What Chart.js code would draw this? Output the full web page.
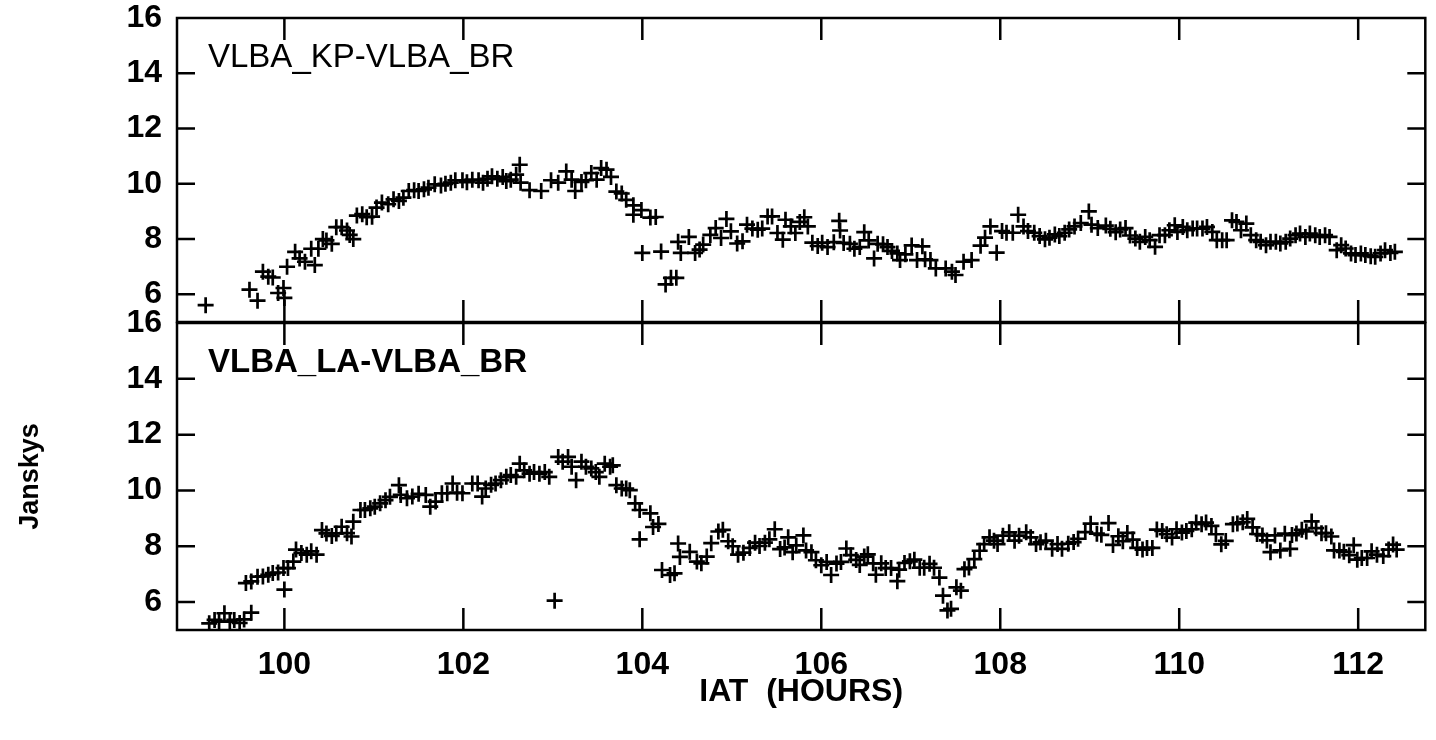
<!DOCTYPE html>
<html lang="en">
<head>
  <meta charset="UTF-8">
  <title>VLBA baseline amplitudes</title>
  <script src="https://cdn.jsdelivr.net/npm/chart.js"></script>
  <style>
    body {
      margin: 0;
      background: #fff;
    }
    .wrap {
      position: relative;
      width: 1436px;
      height: 740px;
    }
    canvas {
      position: absolute;
      left: 0;
    }
    #topPanel { top: 0; }
    #bottomPanel { top: 300px; }
  </style>
</head>
<body>
  <div class="wrap">
    <canvas id="topPanel" width="1436" height="340"></canvas>
    <canvas id="bottomPanel" width="1436" height="440"></canvas>
  </div>

  <script>
    // axis ticks
    const hourTicks = [100, 102, 104, 106, 108, 110, 112];
    const fluxTicks = [6, 8, 10, 12, 14, 16];

    // VLBA_KP-VLBA_BR  (IAT hours, Janskys)
    const kpTime = [
      99.12, 99.61, 99.70, 99.76, 99.82, 99.87, 99.93, 99.99, 100.00, 100.03,
      100.12, 100.17, 100.23, 100.30, 100.34, 100.38, 100.43, 100.47, 100.53, 100.58,
      100.64, 100.70, 100.73, 100.77, 100.81, 100.87, 100.92, 100.98, 101.03, 101.09,
      101.16, 101.22, 101.28, 101.33, 101.39, 101.45, 101.50, 101.56, 101.61, 101.68,
      101.75, 101.80, 101.86, 101.91, 101.99, 102.04, 102.10, 102.17, 102.22, 102.27,
      102.32, 102.38, 102.44, 102.48, 102.53, 102.59, 102.63, 102.64, 102.74, 102.87,
      102.98, 103.06, 103.15, 103.21, 103.25, 103.32, 103.37, 103.43, 103.49, 103.54,
      103.60, 103.65, 103.71, 103.77, 103.82, 103.90, 103.90, 103.99, 104.00, 104.09,
      104.15, 104.21, 104.26, 104.32, 104.38, 104.40, 104.43, 104.52, 104.59, 104.64,
      104.68, 104.76, 104.82, 104.88, 104.94, 104.99, 105.06, 105.12, 105.17, 105.23,
      105.29, 105.34, 105.40, 105.45, 105.51, 105.57, 105.60, 105.66, 105.71, 105.76,
      105.81, 105.85, 105.90, 105.96, 106.01, 106.07, 106.14, 106.20, 106.21, 106.25,
      106.32, 106.37, 106.43, 106.48, 106.53, 106.59, 106.63, 106.69, 106.74, 106.79,
      106.85, 106.88, 106.94, 107.01, 107.07, 107.13, 107.16, 107.22, 107.28, 107.39,
      107.46, 107.50, 107.59, 107.68, 107.78, 107.83, 107.89, 107.96, 108.02, 108.07,
      108.14, 108.20, 108.26, 108.31, 108.38, 108.44, 108.50, 108.55, 108.61, 108.66,
      108.72, 108.77, 108.83, 108.90, 108.99, 109.02, 109.09, 109.18, 109.23, 109.29,
      109.34, 109.40, 109.45, 109.51, 109.56, 109.62, 109.67, 109.73, 109.78, 109.84,
      109.89, 109.95, 109.98, 110.04, 110.09, 110.15, 110.20, 110.26, 110.31, 110.37,
      110.42, 110.48, 110.53, 110.59, 110.64, 110.69, 110.75, 110.80, 110.86, 110.91,
      110.97, 111.02, 111.08, 111.13, 111.19, 111.24, 111.30, 111.35, 111.41, 111.46,
      111.52, 111.57, 111.63, 111.68, 111.76, 111.81, 111.86, 111.92, 111.97, 112.03,
      112.08, 112.14, 112.19, 112.25, 112.30, 112.36, 112.41
    ];
    const kpFlux = [
      5.61, 6.17, 5.77, 6.82, 6.64, 6.61, 6.05, 6.23, 5.87, 7.00,
      7.54, 7.30, 7.18, 7.65, 7.06, 7.65, 8.00, 7.95, 7.83, 8.43,
      8.43, 8.31, 8.15, 8.00, 8.85, 8.90, 8.79, 8.81, 9.14, 9.32,
      9.26, 9.44, 9.38, 9.50, 9.74, 9.77, 9.74, 9.80, 9.86, 9.98,
      9.94, 10.00, 10.04, 10.13, 10.13, 10.06, 10.15, 10.13, 10.04, 10.18,
      10.27, 10.18, 10.25, 10.10, 10.15, 10.33, 10.69, 10.04, 9.77, 9.74,
      10.13, 10.04, 10.45, 10.15, 9.74, 10.07, 10.13, 10.39, 10.15, 10.57,
      10.51, 10.25, 9.72, 9.65, 9.42, 9.22, 8.88, 9.05, 7.50, 8.78,
      8.80, 7.55, 6.36, 6.60, 6.60, 7.90, 7.50, 8.08, 7.50, 7.62,
      7.80, 8.15, 8.40, 8.04, 8.73, 8.28, 7.84, 7.92, 8.52, 8.38,
      8.34, 8.38, 8.82, 8.82, 8.22, 7.98, 8.70, 8.46, 8.22, 8.62,
      8.79, 8.46, 7.87, 7.75, 7.87, 7.71, 7.89, 8.66, 8.31, 7.86,
      7.83, 7.65, 7.71, 8.25, 7.95, 7.30, 7.83, 7.81, 7.71, 7.57,
      7.48, 7.24, 7.45, 7.77, 7.24, 7.74, 7.27, 7.24, 6.94, 6.94,
      6.82, 6.70, 7.18, 7.24, 7.76, 8.05, 8.46, 7.51, 8.29, 8.23,
      8.23, 8.88, 8.46, 8.29, 8.23, 8.11, 7.99, 8.05, 8.17, 8.11,
      8.23, 8.35, 8.46, 8.58, 9.00, 8.52, 8.40, 8.49, 8.37, 8.25,
      8.35, 8.40, 8.13, 8.02, 7.90, 8.08, 7.96, 7.72, 8.14, 8.14,
      8.32, 8.50, 8.26, 8.44, 8.32, 8.38, 8.38, 8.38, 8.44, 8.26,
      7.96, 7.96, 7.96, 8.68, 8.62, 8.32, 8.56, 8.14, 7.96, 7.90,
      7.78, 7.90, 7.90, 7.84, 7.90, 8.02, 8.14, 8.20, 8.08, 8.20,
      8.14, 8.08, 8.14, 8.08, 7.60, 7.78, 7.66, 7.48, 7.42, 7.48,
      7.42, 7.38, 7.36, 7.48, 7.60, 7.50, 7.54
    ];

    // VLBA_LA-VLBA_BR
    const laTime = [
      99.16, 99.22, 99.27, 99.33, 99.39, 99.44, 99.50, 99.55, 99.63, 99.57,
      99.63, 99.70, 99.76, 99.82, 99.87, 99.93, 99.99, 100.00, 100.04, 100.10,
      100.13, 100.19, 100.25, 100.30, 100.36, 100.42, 100.47, 100.53, 100.58, 100.64,
      100.70, 100.75, 100.77, 100.85, 100.90, 100.96, 101.01, 101.07, 101.13, 101.18,
      101.28, 101.30, 101.37, 101.43, 101.50, 101.58, 101.63, 101.69, 101.76, 101.82,
      101.88, 101.93, 101.99, 102.10, 102.16, 102.21, 102.25, 102.31, 102.36, 102.42,
      102.48, 102.53, 102.59, 102.63, 102.68, 102.74, 102.79, 102.85, 102.91, 102.96,
      103.02, 103.06, 103.11, 103.17, 103.21, 103.26, 103.32, 103.37, 103.43, 103.48,
      103.52, 103.58, 103.64, 103.67, 103.71, 103.77, 103.82, 103.86, 103.92, 103.97,
      103.97, 104.09, 104.12, 104.18, 104.22, 104.31, 104.36, 104.40, 104.42, 104.53,
      104.61, 104.66, 104.72, 104.77, 104.85, 104.90, 104.96, 105.01, 105.07, 105.13,
      105.20, 105.26, 105.31, 105.37, 105.42, 105.48, 105.54, 105.59, 105.63, 105.68,
      105.72, 105.80, 105.83, 105.89, 105.94, 106.00, 106.06, 106.11, 106.17, 106.22,
      106.28, 106.33, 106.39, 106.43, 106.48, 106.52, 106.58, 106.61, 106.67, 106.72,
      106.78, 106.85, 106.87, 106.93, 106.99, 107.04, 107.10, 107.15, 107.21, 107.26,
      107.32, 107.36, 107.41, 107.45, 107.51, 107.56, 107.60, 107.65, 107.71, 107.77,
      107.82, 107.88, 107.93, 107.97, 108.03, 108.10, 108.16, 108.21, 108.29, 108.34,
      108.40, 108.45, 108.51, 108.58, 108.64, 108.69, 108.76, 108.82, 108.87, 108.95,
      109.01, 109.08, 109.13, 109.21, 109.26, 109.32, 109.37, 109.42, 109.48, 109.53,
      109.59, 109.64, 109.70, 109.75, 109.81, 109.86, 109.92, 109.97, 110.03, 110.08,
      110.14, 110.19, 110.25, 110.30, 110.36, 110.41, 110.47, 110.52, 110.60, 110.65,
      110.71, 110.76, 110.82, 110.87, 110.93, 110.98, 111.02, 111.07, 111.13, 111.18,
      111.24, 111.26, 111.31, 111.37, 111.42, 111.48, 111.53, 111.59, 111.64, 111.70,
      111.73, 111.79, 111.84, 111.90, 111.95, 111.99, 112.04, 112.10, 112.15, 112.21,
      112.28, 112.34, 112.39, 112.43
    ];
    const laFlux = [
      5.24, 5.36, 5.30, 5.60, 5.30, 5.36, 5.25, 5.38, 5.62, 6.68,
      6.74, 6.91, 6.92, 6.98, 7.04, 7.06, 7.22, 6.45, 7.22, 7.45,
      7.88, 7.76, 7.70, 7.82, 7.70, 8.58, 8.46, 8.37, 8.46, 8.70,
      8.47, 8.35, 8.88, 9.30, 9.30, 9.36, 9.42, 9.54, 9.65, 9.77,
      10.19, 9.84, 9.72, 9.78, 9.88, 9.84, 9.42, 9.60, 9.90, 9.90,
      10.25, 9.92, 9.90, 10.25, 10.25, 9.78, 10.07, 10.20, 10.25, 10.37,
      10.49, 10.55, 10.49, 10.96, 10.72, 10.60, 10.66, 10.60, 10.66, 10.49,
      6.05, 11.20, 11.03, 11.20, 10.85, 10.37, 11.03, 10.85, 10.79, 10.66,
      10.49, 10.96, 10.85, 10.90, 10.19, 10.07, 10.07, 10.01, 9.54, 9.30,
      8.25, 9.18, 8.69, 8.80, 7.15, 6.97, 7.03, 8.10, 7.62, 7.80,
      7.45, 7.39, 7.63, 8.11, 8.53, 8.59, 8.18, 8.00, 7.70, 7.77,
      7.94, 8.13, 8.01, 8.13, 8.25, 8.61, 7.90, 7.96, 8.32, 7.79,
      8.03, 8.39, 7.85, 7.79, 7.50, 7.32, 7.44, 6.97, 7.38, 7.44,
      7.92, 7.68, 7.51, 7.33, 7.63, 7.71, 7.39, 6.98, 7.39, 7.22,
      7.22, 6.75, 7.16, 7.40, 7.46, 7.52, 7.23, 7.23, 7.37, 7.23,
      6.88, 6.23, 5.70, 5.76, 6.53, 6.41, 7.18, 7.24, 7.54, 7.84,
      8.08, 8.32, 8.20, 8.08, 8.38, 8.50, 8.20, 8.38, 8.50, 8.32,
      8.08, 8.14, 8.20, 7.91, 8.08, 7.91, 8.09, 8.15, 8.27, 8.51,
      8.81, 8.45, 8.41, 8.83, 8.05, 8.36, 8.18, 8.48, 8.24, 7.94,
      7.88, 7.94, 7.94, 8.60, 8.55, 8.43, 8.31, 8.61, 8.49, 8.55,
      8.61, 8.85, 8.79, 8.85, 8.73, 8.43, 8.07, 8.19, 8.79, 8.82,
      8.86, 8.98, 8.68, 8.44, 8.39, 8.21, 7.79, 8.39, 7.85, 8.45,
      7.91, 8.40, 8.46, 8.59, 8.53, 8.89, 8.65, 8.47, 8.47, 8.35,
      7.85, 7.85, 7.80, 7.68, 8.04, 7.52, 7.58, 7.58, 7.82, 7.70,
      7.65, 7.88, 8.06, 7.88
    ];

    const FONT = '"Liberation Sans", Arial, Helvetica, sans-serif';

    // frame, inward ticks and the baseline label
    const framePlugin = {
      id: 'frame',
      afterDatasetsDraw(chart, args, opts) {
        const { ctx, chartArea: a } = chart;
        const x = chart.scales.x;
        const y = chart.scales.y;
        ctx.save();
        ctx.strokeStyle = '#000';
        ctx.lineWidth = 2.5;
        ctx.strokeRect(a.left, a.top, a.right - a.left, a.bottom - a.top);
        ctx.beginPath();
        hourTicks.forEach(v => {
          const px = x.getPixelForValue(v);
          ctx.moveTo(px, a.top);
          ctx.lineTo(px, a.top + 22);
          ctx.moveTo(px, a.bottom);
          ctx.lineTo(px, a.bottom - 22);
        });
        fluxTicks.forEach(v => {
          if (v >= y.max) return;
          const py = y.getPixelForValue(v);
          ctx.moveTo(a.left, py);
          ctx.lineTo(a.left + 18, py);
          ctx.moveTo(a.right, py);
          ctx.lineTo(a.right - 18, py);
        });
        ctx.stroke();
        ctx.fillStyle = '#000';
        ctx.font = opts.font;
        ctx.textBaseline = 'middle';
        ctx.fillText(opts.label, a.left + 31, a.top + 40);
        ctx.restore();
      }
    };

    function makePanel(id, times, flux, label, labelFont, bottom) {
      const points = times.map((t, i) => ({ x: t, y: flux[i] }));
      return new Chart(document.getElementById(id), {
        type: 'scatter',
        data: {
          datasets: [{
            data: points,
            pointStyle: 'cross',
            pointRadius: 8,
            pointBorderWidth: 2.7,
            borderColor: '#000',
            backgroundColor: '#000',
          }],
        },
        options: {
          responsive: false,
          animation: false,
          devicePixelRatio: 1,
          layout: {
            padding: bottom
              ? { top: 23, right: 4, left: 0, bottom: 0 }
              : { top: 18, right: 4, left: 0, bottom: 18 },
          },
          plugins: {
            legend: { display: false },
            tooltip: { enabled: false },
            frame: { label: label, font: labelFont },
          },
          scales: {
            x: {
              type: 'linear',
              min: 98.8,
              max: 112.75,
              display: bottom,
              afterBuildTicks: s => { s.ticks = hourTicks.map(v => ({ value: v })); },
              afterFit: s => {
                s.height = bottom ? 110 : 0;
                s.paddingLeft = 0;
                s.paddingRight = 0;
              },
              grid: { display: false, drawTicks: false },
              border: { display: false },
              ticks: {
                autoSkip: false,
                maxRotation: 0,
                padding: 16,
                color: '#000',
                font: { family: FONT, size: 32, weight: 'bold' },
              },
              title: {
                display: true,
                text: 'IAT  (HOURS)',
                color: '#000',
                font: { family: FONT, size: 32, weight: 'bold' },
                padding: { top: 0, bottom: 29 },
              },
            },
            y: {
              min: 5,
              max: 16,
              afterBuildTicks: s => { s.ticks = fluxTicks.map(v => ({ value: v })); },
              afterFit: s => {
                s.width = 177;
                s.paddingTop = 0;
                s.paddingBottom = 0;
              },
              grid: { display: false, drawTicks: false },
              border: { display: false },
              ticks: {
                autoSkip: false,
                padding: 15,
                color: '#000',
                font: { family: FONT, size: 32, weight: 'bold' },
              },
              title: {
                display: bottom,
                text: 'Janskys',
                color: '#000',
                font: { family: FONT, size: 27, weight: 'bold' },
                padding: { top: 14, bottom: 0 },
              },
            },
          },
        },
        plugins: [framePlugin],
      });
    }

    makePanel('topPanel', kpTime, kpFlux, 'VLBA_KP-VLBA_BR', '33px ' + FONT, false);
    makePanel('bottomPanel', laTime, laFlux, 'VLBA_LA-VLBA_BR', 'bold 33px ' + FONT, true);
  </script>
</body>
</html>
